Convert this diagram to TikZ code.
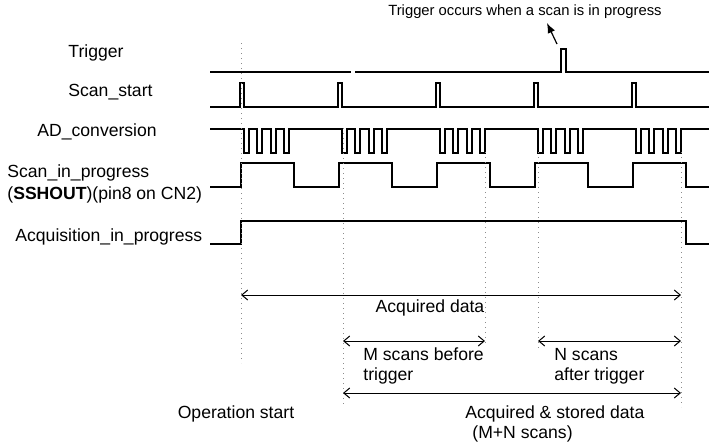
\documentclass[tikz,border=0pt]{standalone}
\usepackage{fontspec}
\setmainfont{Liberation Sans}
\usepackage{tikz}
\usetikzlibrary{arrows.meta}
\usetikzlibrary{calc}
\definecolor{guidegray}{HTML}{8c8c8c}

\begin{document}
\begin{tikzpicture}[x=0.5pt,y=-0.5pt,
signal/.style = {line width=0.6pt, color=black},
guide/.style = {dotted, line width=0.5pt, color=guidegray},
span/.style = {line width=0.5pt,
  {Straight Barb[length=3pt,width=5pt]}-{Straight Barb[length=3pt,width=5pt]}},
lbl/.style = {inner sep=0pt, font=\fontsize{8.8}{10}\selectfont},
note/.style = {inner sep=0pt, font=\fontsize{7.4}{9}\selectfont}
]
\useasboundingbox (0,0) rectangle (709,446);

% signal names
\node [lbl,anchor=west] (trig) at (68,53) {Trigger};
\node [lbl,anchor=west] (scan) at (68,92) {Scan\_start};
\node [lbl,anchor=west] (adc) at (37,132) {AD\_conversion};
\node [lbl,anchor=west,align=left] (sip) at (7,184)
  {Scan\_in\_progress\\[1pt](\textbf{SSHOUT})(pin8 on CN2)};
\node [lbl,anchor=west] (acq) at (15,237) {Acquisition\_in\_progress};

% waveforms
\draw [signal] (210,72) -- (351,72);
\draw [signal] (355,72) -- (561,72) -- (561,49) -- (566,49) -- (566,72) -- (709,72);
\draw [signal] (210,107)
  \foreach \p in {240,338,436,534,632} {
    -- (\p,107) -- (\p,83) -- (\p+4,83) -- (\p+4,107) }
  -- (709,107);
\draw [signal] (210,129)
  \foreach \p in {240,338,436,534,632} {
    \foreach \o in {4,17,31,44} {
      -- (\p+\o,129) -- (\p+\o,153) -- (\p+\o+5,153) -- (\p+\o+5,129) } }
  -- (709,129);
\draw [signal] (210,187)
  \foreach \p in {240,338,436,534,632} {
    -- (\p+1,187) -- (\p+1,163) -- (\p+54,163) -- (\p+54,187) }
  -- (709,187);
\draw [signal] (210,244) -- (241,244) -- (241,221) -- (686,221) -- (686,244) -- (709,244);

% guide lines
\coordinate (g0) at (241,43);  \coordinate (g0b) at (241,363);
\coordinate (g1) at (343,128); \coordinate (g1b) at (343,405);
\coordinate (g2) at (485,152); \coordinate (g2b) at (485,345);
\coordinate (g3) at (538,152); \coordinate (g3b) at (538,348);
\coordinate (g4) at (681,152); \coordinate (g4b) at (681,407);
\draw [guide] (g0) -- (g0b);
\draw [guide] (g1) -- (g1b);
\draw [guide] (g2) -- (g2b);
\draw [guide] (g3) -- (g3b);
\draw [guide] (g4) -- (g4b);

% spans
\draw [span] (g0 |- 0,295) -- (g4 |- 0,295);
\node [lbl] (acqdata) at (430,308) {Acquired data};
\draw [span] (g1 |- 0,341) -- (g2 |- 0,341);
\node [lbl,anchor=west,align=left] (mscans) at (363,366) {M scans before\\trigger};
\draw [span] (g3 |- 0,341) -- (g4 |- 0,341);
\node [lbl,anchor=west,align=left] (nscans) at (554,366) {N scans\\after trigger};
\draw [span] (g1 |- 0,393) -- (g4 |- 0,393);
\node [lbl,anchor=west,align=left] (stored) at (465,424)
  {Acquired \& stored data\\\hspace{3.5pt}(M+N scans)};
\node [lbl] (opstart) at (236,414) {Operation start};

% trigger note
\node [note] (trignote) at (525,12) {Trigger occurs when a scan is in progress};
\coordinate (pulse) at (557,44);
\draw [line width=0.6pt,-{Latex[length=5pt,width=4pt]}] (pulse) -- (547,23);

\end{tikzpicture}
\end{document}
